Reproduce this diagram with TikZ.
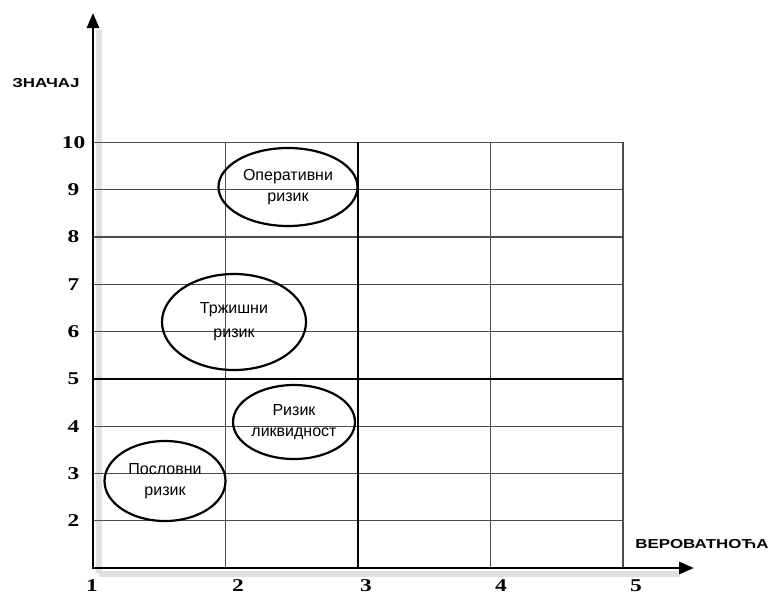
\documentclass[tikz,border=0pt]{standalone}
\usepackage{fontspec}
\setmainfont{Liberation Sans}
\newfontfamily\numfont{Liberation Serif}
\usetikzlibrary{shapes.geometric,arrows.meta}
\newcommand{\widetxt}[1]{\scalebox{1.3}[1]{#1}}
\begin{document}
\begin{tikzpicture}[x=1pt,y=-1pt,
  gridline/.style={draw=black!70, line width=1.2pt},
  midline/.style={draw=black, line width=1.9pt},
  axisline/.style={draw=black, line width=2.8pt, line cap=rect, -{Triangle[length=15pt,width=12pt]}},
  shadowline/.style={draw=black!12, line width=6pt},
  risk/.style={ellipse, draw=black, line width=2.2pt, inner sep=0pt},
  risktext/.style={align=center, font=\fontsize{16}{21}\selectfont},
  tick/.style={font=\numfont\bfseries\fontsize{18}{18}\selectfont, inner sep=0pt},
  axislabel/.style={font=\bfseries\fontsize{13}{13}\selectfont, inner sep=0pt}
]
\useasboundingbox (0,0) rectangle (773,595);
\fill[white] (0,0) rectangle (773,595);

% coordinates
\coordinate (O) at (93,568);
\coordinate (ytip) at (93,13);
\coordinate (xtip) at (694,568);

% shadows of the axes
\draw[shadowline] (99,30) -- (99,573);
\draw[shadowline] (99,574) -- (680,574);

% grid
\foreach \v in {2,3,4,6,7,8,9,10}
  \draw[gridline] (93,{568-(\v-1)*47.3}) -- (623,{568-(\v-1)*47.3});
\foreach \i in {2,4,5}
  \draw[gridline] ({93+(\i-1)*132.5},142.3) -- ({93+(\i-1)*132.5},568);
\draw[midline] (93,379.3) -- (623,379.3);
\draw[midline] (358,142.3) -- (358,568);

% axes
\draw[axisline] (O) -- (ytip);
\draw[axisline] (O) -- (xtip);

% y tick labels
\foreach \v in {2,...,10}
  \node[tick] (y\v) at (73.5,{568-(\v-1)*47.3}) {\widetxt{\v}};
% x tick labels
\node[tick] (x1) at (92,586) {\widetxt{1}};
\node[tick] (x2) at (238,586) {\widetxt{2}};
\node[tick] (x3) at (366,586) {\widetxt{3}};
\node[tick] (x4) at (501,586) {\widetxt{4}};
\node[tick] (x5) at (636,586) {\widetxt{5}};

% axis labels
\node[axislabel] (ylab) at (46,83) {\widetxt{ЗНАЧАЈ}};
\node[axislabel] (xlab) at (702,544) {\widetxt{ВЕРОВАТНОЋА}};

% risks
\node[risk, minimum width=139pt, minimum height=78pt,
  label={[risktext]center:Оперативни\\ризик}] (oper) at (288,187) {};
\node[risk, minimum width=144pt, minimum height=96pt,
  label={[risktext, font=\fontsize{16}{24}\selectfont]center:Тржишни\\ризик}] (trz) at (234,322) {};
\node[risk, minimum width=122pt, minimum height=74pt,
  label={[risktext]center:Ризик\\ликвидност}] (likv) at (294,422) {};
\node[risk, minimum width=121pt, minimum height=80pt,
  label={[risktext]center:Пословни\\ризик}] (posl) at (165,481) {};
\end{tikzpicture}
\end{document}
